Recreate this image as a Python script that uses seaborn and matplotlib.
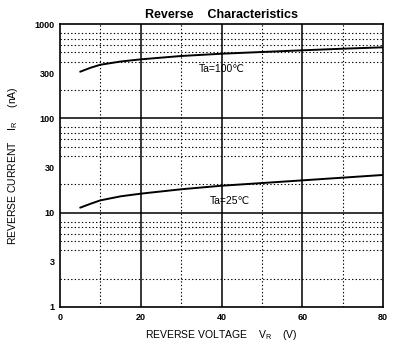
import numpy as np
import pandas as pd
import seaborn as sns
import matplotlib.pyplot as plt
from matplotlib.ticker import FixedLocator, NullFormatter

# values
vr = [5, 7.5, 10, 15, 20, 30, 40, 50, 60, 70, 80]
ir_100 = [312, 343, 370, 400, 422, 458, 484, 505, 526, 547, 566]
ir_25 = [11.3, 12.4, 13.5, 14.9, 15.9, 17.7, 19.3, 20.6, 22.0, 23.5, 25.1]
yticks = [1, 3, 10, 30, 100, 300, 1000]
xticks = [0, 20, 40, 60, 80]

df = pd.concat([
    pd.DataFrame({'VR': vr, 'IR': ir_100, 'Ta': '100'}),
    pd.DataFrame({'VR': vr, 'IR': ir_25, 'Ta': '25'}),
])

sns.set_style('white')
plt.rcParams['font.family'] = ['Liberation Sans', 'DejaVu Sans']
plt.rcParams['mathtext.fontset'] = 'custom'
plt.rcParams['mathtext.rm'] = 'Liberation Sans'
plt.rcParams['text.color'] = 'black'
plt.rcParams['axes.labelcolor'] = 'black'

fig = plt.figure(figsize=(4.04, 3.58), dpi=100)
ax = fig.add_axes([60 / 404, 51 / 358, 323 / 404, 283 / 358])

sns.lineplot(data=df, x='VR', y='IR', units='Ta', estimator=None,
             color='black', lw=1.4, ax=ax, legend=False)

ax.set_yscale('log')
ax.set_xlim(0, 80)
ax.set_ylim(1, 1000)

# grid: solid majors, dotted minors
minor_y = [m * d for d in (1, 10, 100) for m in range(2, 9)]
ax.yaxis.set_minor_locator(FixedLocator(minor_y))
ax.yaxis.set_minor_formatter(NullFormatter())
ax.set_yticks(yticks)
ax.set_yticklabels([str(t) for t in yticks])
ax.set_xticks(xticks)
ax.set_xticks([10, 30, 50, 70], minor=True)
for v in (20, 40, 60):
    ax.axvline(v, color='black', lw=1.1, zorder=1)
for v in (10, 100):
    ax.axhline(v, color='black', lw=1.1, zorder=1)
ax.grid(which='minor', axis='both', color='black', ls=(0, (1.2, 2)), lw=0.8)
ax.tick_params(which='both', length=0, labelsize=6.5, pad=4, labelcolor='black')
for lab in ax.get_xticklabels() + ax.get_yticklabels():
    lab.set_fontweight('bold')

for s in ax.spines.values():
    s.set_color('black')
    s.set_linewidth(1.2)

ax.set_xlabel('REVERSE VOLTAGE    V$_\\mathregular{R}$    (V)', fontsize=7.5, labelpad=5)
ax.set_ylabel('REVERSE CURRENT    I$_\\mathregular{R}$     (nA)', fontsize=7.5, labelpad=10)
ax.set_title('Reverse    Characteristics', fontsize=9, fontweight='bold', pad=4)

ax.text(40, 333, 'Ta=100℃', fontsize=7.5, ha='center', va='center',
        family=['Liberation Sans', 'DejaVu Sans'])
ax.text(42, 13.2, 'Ta=25℃', fontsize=7.5, ha='center', va='center',
        family=['Liberation Sans', 'DejaVu Sans'])

fig.savefig('out.png', dpi=100)
